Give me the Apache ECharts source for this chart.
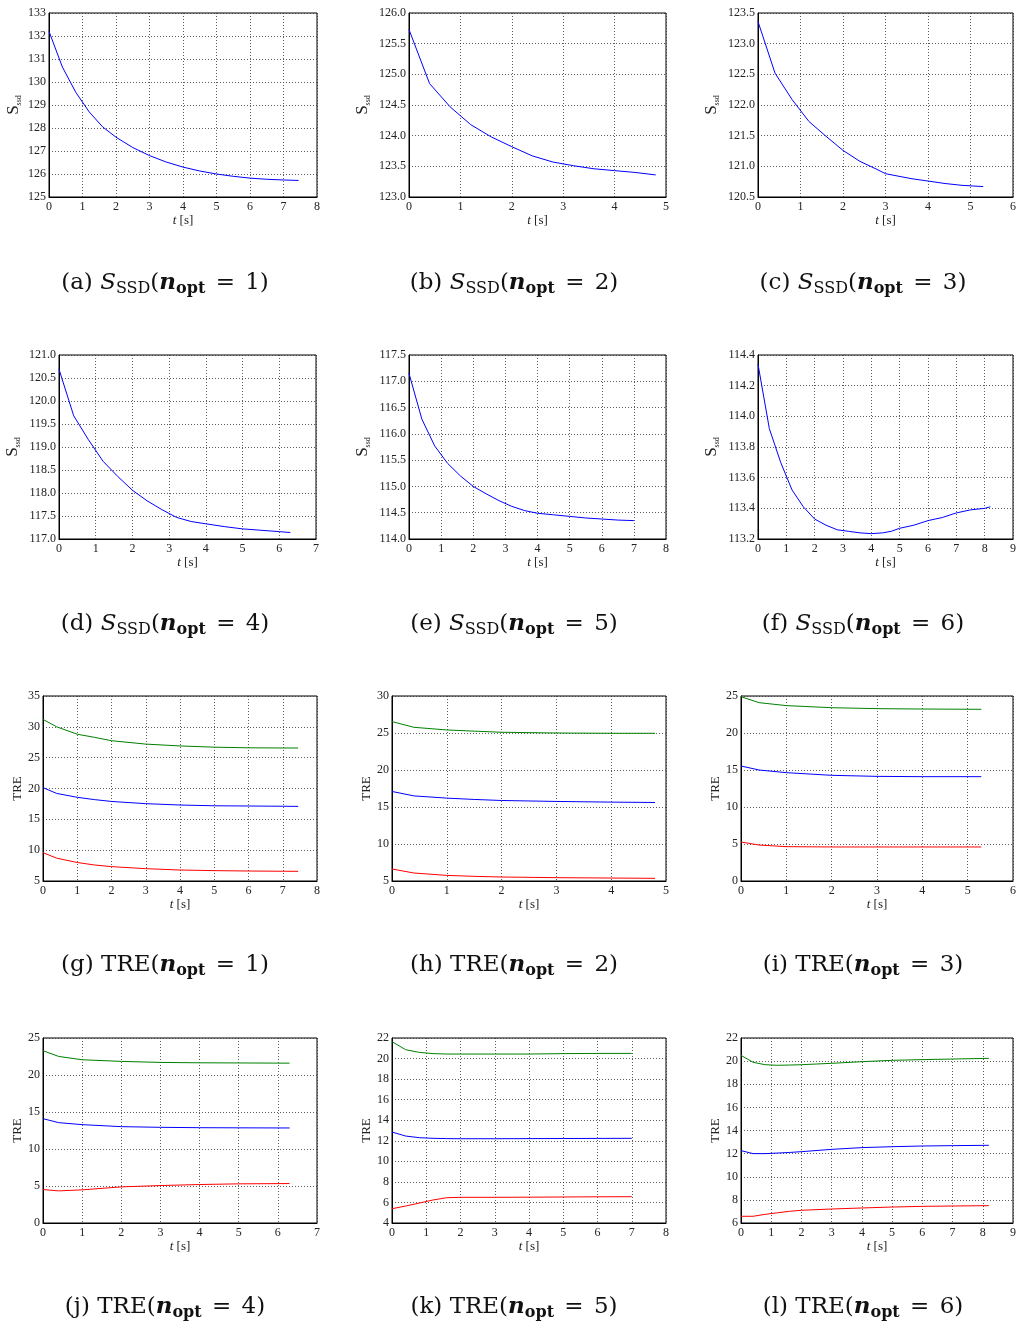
<!DOCTYPE html>
<html>
<head>
<meta charset="utf-8">
<script src="https://cdn.jsdelivr.net/npm/echarts@6/dist/echarts.min.js"></script>
<style>
  html, body { margin: 0; padding: 0; background: #fff; }
  #chart { width: 1019px; height: 1326px; }
</style>
</head>
<body>
<div id="chart"></div>
<script>
// ---- S_ssd over time, one run per n_opt ----
const tA = [0, 0.4, 0.8, 1.2, 1.6, 2, 2.5, 3, 3.5, 4, 4.5, 5, 5.5, 6, 6.5, 7, 7.45];
const ssdA = [132.2, 130.65, 129.55, 128.7, 128.05, 127.6, 127.15, 126.8, 126.52, 126.3, 126.13, 126.0, 125.9, 125.82, 125.77, 125.74, 125.72];

const tB = [0, 0.4, 0.8, 1.2, 1.6, 2, 2.4, 2.8, 3.2, 3.6, 4, 4.4, 4.8];
const ssdB = [125.73, 124.85, 124.47, 124.18, 123.98, 123.82, 123.67, 123.57, 123.51, 123.46, 123.43, 123.40, 123.36];

const tC = [0, 0.4, 0.8, 1.2, 1.6, 2, 2.4, 2.8, 3.0, 3.6, 4, 4.4, 4.8, 5.3];
const ssdC = [123.36, 122.52, 122.09, 121.73, 121.49, 121.26, 121.08, 120.95, 120.88, 120.80, 120.76, 120.72, 120.69, 120.67];

const tD = [0, 0.4, 0.8, 1.2, 1.6, 2, 2.4, 2.8, 3.2, 3.6, 4, 4.5, 5, 5.5, 6, 6.3];
const ssdD = [120.69, 119.68, 119.16, 118.69, 118.36, 118.06, 117.83, 117.64, 117.47, 117.38, 117.33, 117.27, 117.22, 117.19, 117.16, 117.14];

const tE = [0, 0.4, 0.8, 1.2, 1.6, 2, 2.4, 2.8, 3.2, 3.6, 4, 4.5, 5, 5.5, 6, 6.5, 7];
const ssdE = [117.15, 116.28, 115.77, 115.44, 115.20, 115.0, 114.86, 114.73, 114.62, 114.54, 114.49, 114.46, 114.43, 114.40, 114.38, 114.36, 114.35];

const tF = [0, 0.4, 0.8, 1.2, 1.6, 2, 2.4, 2.8, 3.2, 3.6, 4, 4.4, 4.7, 5, 5.5, 6, 6.5, 7, 7.5, 8, 8.2];
const ssdF = [114.34, 113.92, 113.70, 113.52, 113.41, 113.33, 113.29, 113.26, 113.25, 113.24, 113.235, 113.24, 113.25, 113.27, 113.29, 113.32, 113.34, 113.37, 113.39, 113.40, 113.41];

// ---- TRE over time (three landmark sets: green / blue / red) ----
const tG = [0, 0.4, 1, 1.5, 2, 3, 4, 5, 6, 7, 7.45];
const treGgreen = [31.2, 30.0, 28.8, 28.3, 27.75, 27.2, 26.9, 26.7, 26.6, 26.57, 26.57];
const treGblue = [20.14, 19.2, 18.57, 18.2, 17.9, 17.54, 17.32, 17.2, 17.16, 17.12, 17.1];
const treGred = [9.6, 8.7, 8.0, 7.6, 7.33, 7.0, 6.78, 6.68, 6.62, 6.58, 6.57];

const tH = [0, 0.4, 1, 1.5, 2, 3, 4, 4.8];
const treHgreen = [26.54, 25.77, 25.41, 25.25, 25.1, 25.0, 24.96, 24.96];
const treHblue = [17.1, 16.5, 16.2, 16.02, 15.88, 15.75, 15.66, 15.61];
const treHred = [6.62, 6.08, 5.76, 5.63, 5.54, 5.45, 5.4, 5.36];

const tI = [0, 0.4, 1, 2, 3, 4, 5.3];
const treIgreen = [24.9, 24.1, 23.7, 23.42, 23.29, 23.24, 23.2];
const treIblue = [15.54, 15.0, 14.64, 14.28, 14.14, 14.1, 14.1];
const treIred = [5.27, 4.86, 4.64, 4.6, 4.6, 4.6, 4.6];

const tJ = [0, 0.4, 1, 2, 3, 4, 5, 6.3];
const treJgreen = [23.28, 22.51, 22.06, 21.84, 21.7, 21.65, 21.63, 21.6];
const treJblue = [14.1, 13.56, 13.29, 13.02, 12.93, 12.88, 12.86, 12.84];
const treJred = [4.52, 4.34, 4.48, 4.88, 5.06, 5.2, 5.29, 5.33];

const tK = [0, 0.4, 0.8, 1.2, 1.6, 2, 3, 4, 5, 6, 7];
const treKgreen = [21.64, 20.86, 20.6, 20.48, 20.44, 20.44, 20.44, 20.44, 20.48, 20.5, 20.5];
const treKblue = [12.85, 12.46, 12.3, 12.24, 12.21, 12.2, 12.2, 12.21, 12.22, 12.23, 12.24];
const treKred = [5.39, 5.65, 5.94, 6.24, 6.46, 6.5, 6.5, 6.51, 6.53, 6.55, 6.56];

const tL = [0, 0.4, 0.8, 1.2, 1.6, 2, 3, 4, 5, 6, 7, 8.2];
const treLgreen = [20.5, 19.9, 19.69, 19.64, 19.66, 19.69, 19.81, 19.95, 20.07, 20.13, 20.18, 20.24];
const treLblue = [12.26, 12.0, 12.0, 12.05, 12.1, 12.17, 12.37, 12.52, 12.6, 12.66, 12.69, 12.72];
const treLred = [6.58, 6.58, 6.75, 6.88, 7.01, 7.1, 7.21, 7.3, 7.38, 7.44, 7.47, 7.5];

// ---- axis ranges / ticks: [min, max, step] ----
const xTicks = [[0, 8, 1], [0, 5, 1], [0, 6, 1], [0, 7, 1], [0, 8, 1], [0, 9, 1],
                [0, 8, 1], [0, 5, 1], [0, 6, 1], [0, 7, 1], [0, 8, 1], [0, 9, 1]];
const yTicks = [[125, 133, 1], [123, 126, 0.5], [120.5, 123.5, 0.5],
                [117, 121, 0.5], [114, 117.5, 0.5], [113.2, 114.4, 0.2],
                [5, 35, 5], [5, 30, 5], [0, 25, 5],
                [0, 25, 5], [4, 22, 2], [6, 22, 2]];
const yDecimals = [0, 1, 1, 1, 1, 1, 0, 0, 0, 0, 0, 0];
const letters = ['a', 'b', 'c', 'd', 'e', 'f', 'g', 'h', 'i', 'j', 'k', 'l'];
const nOpt = [1, 2, 3, 4, 5, 6, 1, 2, 3, 4, 5, 6];

const GREEN = '#008000', BLUE = '#0000ff', RED = '#ff0000';
const panelLines = [
  [[tA, ssdA, BLUE]], [[tB, ssdB, BLUE]], [[tC, ssdC, BLUE]],
  [[tD, ssdD, BLUE]], [[tE, ssdE, BLUE]], [[tF, ssdF, BLUE]],
  [[tG, treGgreen, GREEN], [tG, treGblue, BLUE], [tG, treGred, RED]],
  [[tH, treHgreen, GREEN], [tH, treHblue, BLUE], [tH, treHred, RED]],
  [[tI, treIgreen, GREEN], [tI, treIblue, BLUE], [tI, treIred, RED]],
  [[tJ, treJgreen, GREEN], [tJ, treJblue, BLUE], [tJ, treJred, RED]],
  [[tK, treKgreen, GREEN], [tK, treKblue, BLUE], [tK, treKred, RED]],
  [[tL, treLgreen, GREEN], [tL, treLblue, BLUE], [tL, treLred, RED]]
];

// ---- layout: plot rectangles [left, top, width, height] ----
const rects = [
  [49, 13, 268, 184], [409, 13, 257, 184], [758, 13, 256, 184],
  [59, 355, 257, 184], [409, 355, 257, 184], [758, 355, 256, 184],
  [43, 696, 274, 185], [392, 696, 274, 185], [741, 696, 274, 185],
  [43, 1038, 274, 185], [392, 1038, 274, 185], [741, 1038, 273, 185]
];
const yNameGaps = [26, 37, 37, 37, 37, 37, 18, 18, 18, 18, 18, 18];
const captionX = [165, 514, 863];
const captionY = [283, 624, 965, 1307];

const SERIF = "'Liberation Serif', 'DejaVu Serif', serif";
const CAP = "'DejaVu Serif', 'Liberation Serif', serif";
const zip = (xs, ys) => xs.map((x, i) => [x, ys[i]]);

const grids = [], xAxes = [], yAxes = [], series = [], graphics = [];

rects.forEach((r, i) => {
  grids.push({
    left: r[0], top: r[1], width: r[2], height: r[3],
    show: true, borderColor: '#000', borderWidth: 1, backgroundColor: 'transparent'
  });
  const gridLine = { show: true, lineStyle: { color: '#333', type: [1, 2], width: 0.8 } };
  const [x0, x1, xs] = xTicks[i];
  const [y0, y1, ys] = yTicks[i];
  const dec = yDecimals[i];
  xAxes.push({
    gridIndex: i, type: 'value', min: x0, max: x1, interval: xs,
    axisLine: { show: true, lineStyle: { color: '#000', width: 1 } },
    axisTick: { show: false },
    axisLabel: { color: '#222', fontFamily: SERIF, fontSize: 12, margin: 4, showMaxLabel: true, showMinLabel: true },
    splitLine: gridLine,
    name: '{it|t} [s]', nameLocation: 'middle', nameGap: 17,
    nameTextStyle: { color: '#222', fontFamily: SERIF, fontSize: 13,
      rich: { it: { fontStyle: 'italic', fontFamily: SERIF, fontSize: 13, color: '#222' } } }
  });
  const isSsd = i < 6;
  yAxes.push({
    gridIndex: i, type: 'value', min: y0, max: y1, interval: ys,
    axisLine: { show: true, lineStyle: { color: '#000', width: 1 } },
    axisTick: { show: false },
    axisLabel: { color: '#222', fontFamily: SERIF, fontSize: 12, margin: 3,
      showMaxLabel: true, showMinLabel: true,
      formatter: v => v.toFixed(dec) },
    splitLine: gridLine,
    name: isSsd ? '{S|S}{sub|ssd}' : 'TRE',
    nameLocation: 'middle', nameRotate: 90, nameGap: yNameGaps[i],
    nameTextStyle: { color: '#222', fontFamily: SERIF, fontSize: 13,
      rich: {
        S: { fontFamily: SERIF, fontSize: 17, lineHeight: 18, color: '#222' },
        sub: { fontFamily: SERIF, fontSize: 8, lineHeight: 8, verticalAlign: 'bottom', color: '#222' }
      } }
  });
  panelLines[i].forEach(([t, v, c]) => {
    series.push({
      type: 'line', xAxisIndex: i, yAxisIndex: i,
      data: zip(t, v), showSymbol: false, symbol: 'none',
      lineStyle: { color: c, width: 1 }, itemStyle: { color: c },
      clip: true
    });
  });

  // sub-figure caption
  const head = isSsd ? '{s|S}{sub|SSD}(' : 'TRE(';
  graphics.push({
    type: 'text',
    x: captionX[i % 3], y: captionY[Math.floor(i / 3)],
    style: {
      text: '(' + letters[i] + ') ' + head + '{n|n}{nsub|opt}{eq| = }' + nOpt[i] + ')',
      fontFamily: CAP, fontSize: 23, fill: '#111',
      align: 'center', verticalAlign: 'middle', lineHeight: 28,
      rich: {
        s: { fontFamily: CAP, fontSize: 23, fontStyle: 'italic', lineHeight: 28, fill: '#111' },
        sub: { fontFamily: CAP, fontSize: 16, lineHeight: 17, verticalAlign: 'bottom', fill: '#111' },
        n: { fontFamily: CAP, fontSize: 23, fontStyle: 'italic', fontWeight: 'bold', lineHeight: 28, fill: '#111' },
        nsub: { fontFamily: CAP, fontSize: 16, fontWeight: 'bold', lineHeight: 17, verticalAlign: 'bottom', fill: '#111' },
        eq: { fontFamily: CAP, fontSize: 23, lineHeight: 28, fill: '#111', padding: [0, 3, 0, 3] }
      }
    }
  });
});

const chart = echarts.init(document.getElementById('chart'), null, { renderer: 'canvas' });
chart.setOption({
  backgroundColor: '#fff',
  animation: false,
  grid: grids,
  xAxis: xAxes,
  yAxis: yAxes,
  series: series,
  graphic: graphics
});
</script>
</body>
</html>
